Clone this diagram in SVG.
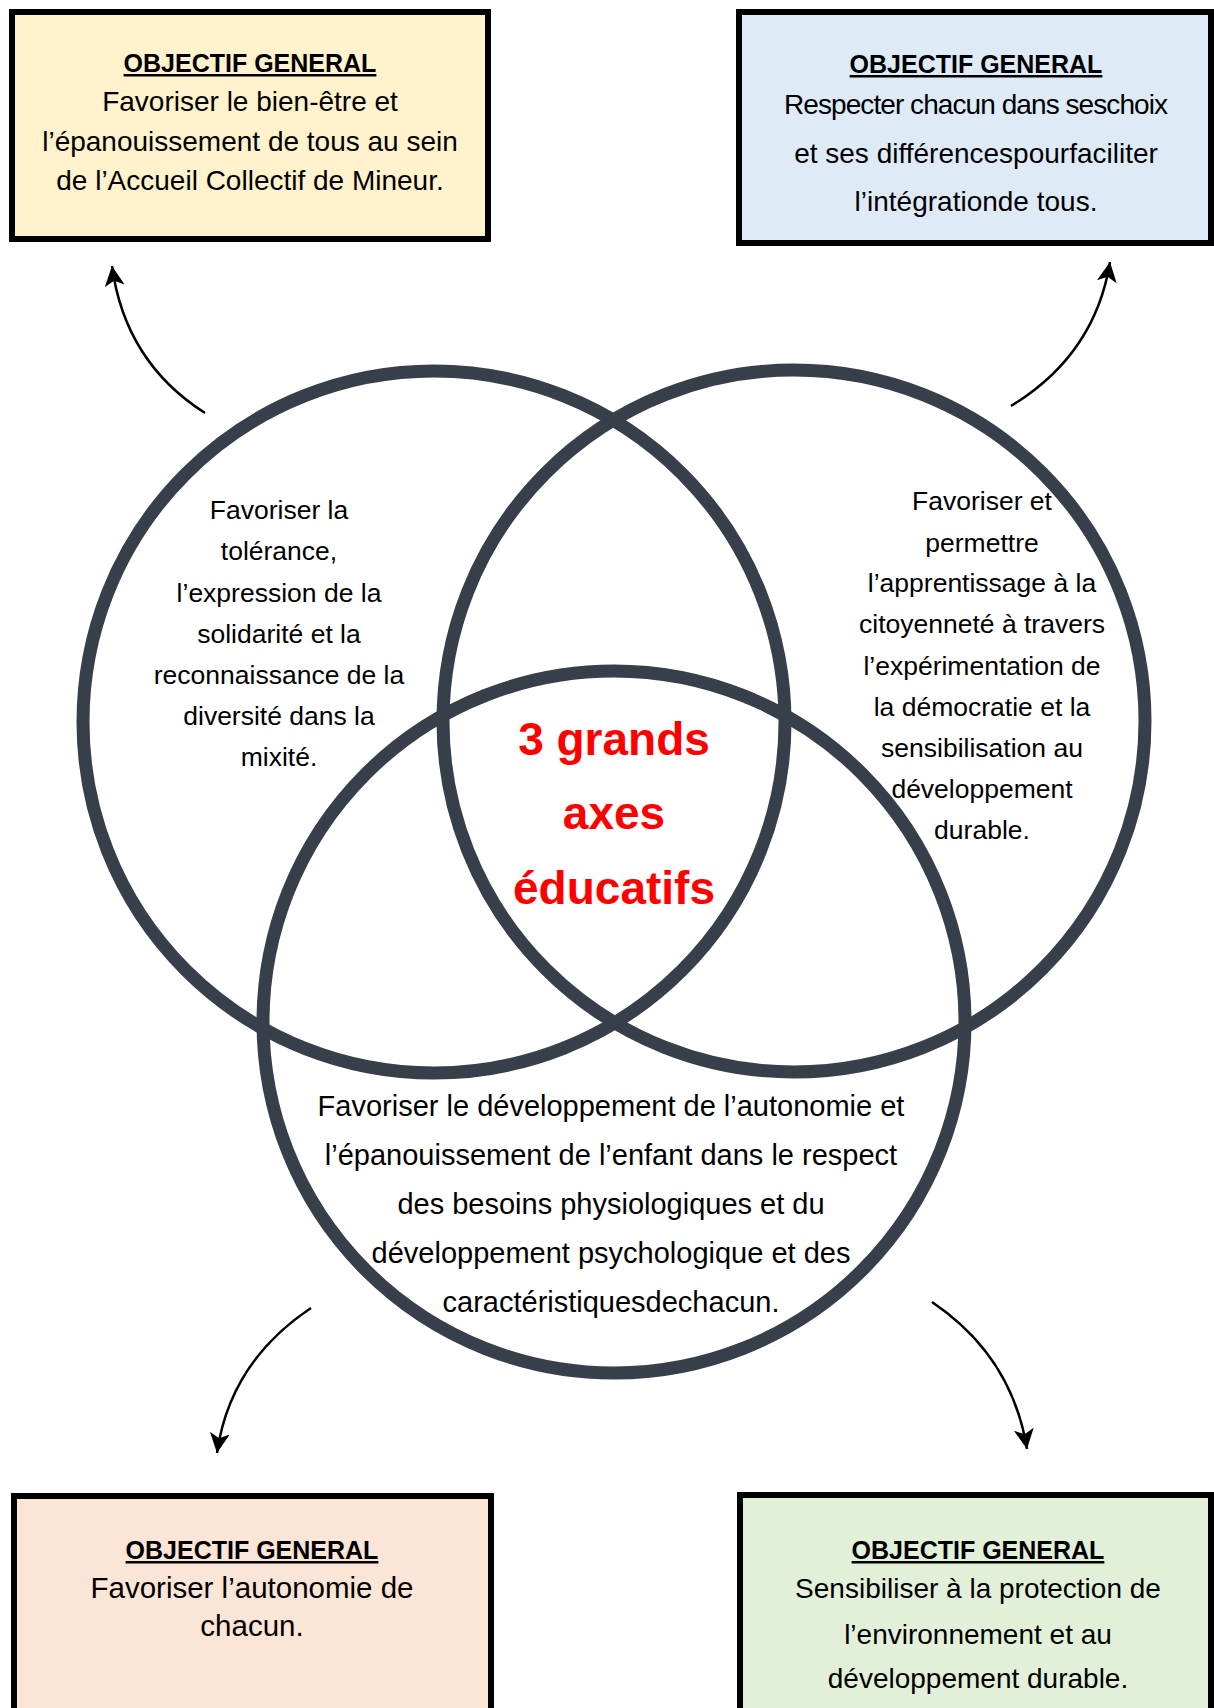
<svg xmlns="http://www.w3.org/2000/svg" width="1214" height="1708" viewBox="0 0 1214 1708">
<style>
.box{stroke:#000;stroke-width:6}
.t{font-family:"Liberation Sans",Arial,sans-serif;fill:#000;text-anchor:middle}
.title{font-weight:bold;font-size:25px;text-decoration:underline}
.bx{font-size:28px}
.bx2{font-size:29.5px}
.cl{font-size:26.5px}
.bt{font-size:29px}
.red{font-family:"Liberation Sans",Arial,sans-serif;font-weight:bold;font-size:46px;fill:#FF0000;text-anchor:middle}
.circ{fill:none;stroke:#37404A;stroke-width:13}
.arr{fill:none;stroke:#000;stroke-width:2.5}
</style>
<defs>
<marker id="ah" markerUnits="userSpaceOnUse" markerWidth="22" markerHeight="22" refX="20" refY="10" orient="auto" viewBox="0 0 22 20">
<path d="M0,0 L20,10 L0,20 L5,10 z" fill="#000"/>
</marker>
</defs>

<g id="circles">
<circle class="circ" cx="434" cy="722" r="351"/>
<circle class="circ" cx="794" cy="721" r="351"/>
<circle class="circ" cx="614" cy="1022" r="351"/>
</g>

<g id="connectors">
<path class="arr" d="M205,413 Q125,362 112,266" marker-end="url(#ah)"/>
<path class="arr" d="M1011,406 Q1095,355 1110,262" marker-end="url(#ah)"/>
<path class="arr" d="M311,1308 Q230,1362 217,1453" marker-end="url(#ah)"/>
<path class="arr" d="M932,1302 Q1012,1356 1027,1449" marker-end="url(#ah)"/>
</g>

<g id="obj-top-left">
<rect class="box" x="12" y="12" width="476" height="227" fill="#FFF2CC"/>
<text class="t title" x="250" y="72">OBJECTIF GENERAL</text>
<text class="t bx" x="250" y="111">Favoriser le bien-être et</text>
<text class="t bx" x="250" y="151">l’épanouissement de tous au sein</text>
<text class="t bx" x="250" y="190">de l’Accueil Collectif de Mineur.</text>
</g>

<g id="obj-top-right">
<rect class="box" x="739" y="12" width="472" height="231" fill="#DEEBF7"/>
<text class="t title" x="976" y="73">OBJECTIF GENERAL</text>
<text class="t bx" x="976" y="114" textLength="384">Respecter chacun dans seschoix</text>
<text class="t bx" x="976" y="163">et ses différencespourfaciliter</text>
<text class="t bx" x="976" y="211">l’intégrationde tous.</text>
</g>

<g id="obj-bottom-left">
<rect class="box" x="14" y="1496" width="477" height="300" fill="#FBE5D6"/>
<text class="t title" x="252" y="1559">OBJECTIF GENERAL</text>
<text class="t bx2" x="252" y="1598">Favoriser l’autonomie de</text>
<text class="t bx2" x="252" y="1636">chacun.</text>
</g>

<g id="obj-bottom-right">
<rect class="box" x="740" y="1495" width="471" height="300" fill="#E2F0D9"/>
<text class="t title" x="978" y="1559">OBJECTIF GENERAL</text>
<text class="t bx" x="978" y="1598">Sensibiliser à la protection de</text>
<text class="t bx" x="978" y="1644">l’environnement et au</text>
<text class="t bx" x="978" y="1688">développement durable.</text>
</g>

<g id="axe-left">
<text class="t cl" x="279" y="519">Favoriser la</text>
<text class="t cl" x="279" y="560">tolérance,</text>
<text class="t cl" x="279" y="602">l’expression de la</text>
<text class="t cl" x="279" y="643">solidarité et la</text>
<text class="t cl" x="279" y="684">reconnaissance de la</text>
<text class="t cl" x="279" y="725">diversité dans la</text>
<text class="t cl" x="279" y="766">mixité.</text>
</g>

<g id="axe-right">
<text class="t cl" x="982" y="510">Favoriser et</text>
<text class="t cl" x="982" y="552">permettre</text>
<text class="t cl" x="982" y="592">l’apprentissage à la</text>
<text class="t cl" x="982" y="633">citoyenneté à travers</text>
<text class="t cl" x="982" y="675">l’expérimentation de</text>
<text class="t cl" x="982" y="716">la démocratie et la</text>
<text class="t cl" x="982" y="757">sensibilisation au</text>
<text class="t cl" x="982" y="798">développement</text>
<text class="t cl" x="982" y="839">durable.</text>
</g>

<g id="center">
<text class="red" x="614" y="755">3 grands</text>
<text class="red" x="614" y="829">axes</text>
<text class="red" x="614" y="904">éducatifs</text>
</g>

<g id="axe-bottom">
<text class="t bt" x="611" y="1116">Favoriser le développement de l’autonomie et</text>
<text class="t bt" x="611" y="1165">l’épanouissement de l’enfant dans le respect</text>
<text class="t bt" x="611" y="1214">des besoins physiologiques et du</text>
<text class="t bt" x="611" y="1263">développement psychologique et des</text>
<text class="t bt" x="611" y="1312">caractéristiquesdechacun.</text>
</g>
</svg>
